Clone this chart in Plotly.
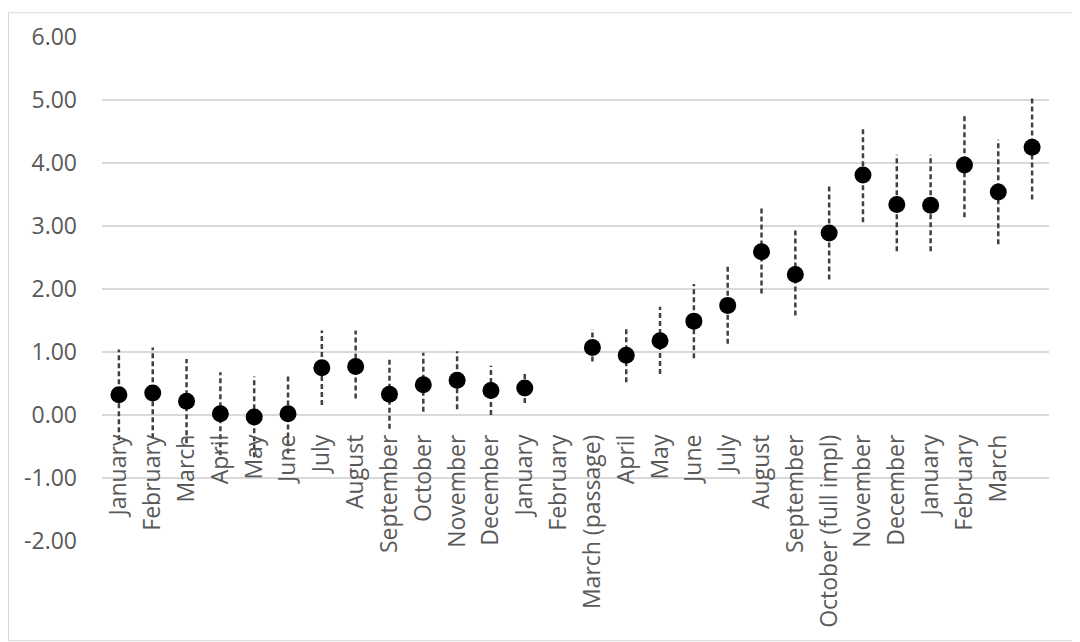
import plotly.graph_objects as go

labels = ["January", "February", "March", "April", "May", "June", "July", "August",
          "September", "October", "November", "December", "January", "February",
          "March (passage)", "April", "May", "June", "July", "August", "September",
          "October (full impl)", "November", "December", "January", "February", "March", ""]

values = [0.32, 0.35, 0.22, 0.02, -0.03, 0.02, 0.75, 0.77, 0.33, 0.48, 0.55, 0.39, 0.43,
          None, 1.07, 0.95, 1.18, 1.49, 1.74, 2.59, 2.23, 2.89, 3.81, 3.34, 3.33, 3.97, 3.54, 4.25]

upper = [1.04, 1.07, 0.89, 0.68, 0.61, 0.65, 1.34, 1.34, 0.88, 0.99, 1.01, 0.78, 0.70,
         None, 1.36, 1.40, 1.72, 2.08, 2.36, 3.28, 2.94, 3.63, 4.58, 4.13, 4.13, 4.79, 4.37, 5.07]

lower = [-0.40, -0.37, -0.45, -0.64, -0.67, -0.61, 0.16, 0.26, -0.22, 0.05, 0.09, 0.00, 0.19,
         None, 0.85, 0.52, 0.65, 0.90, 1.13, 1.93, 1.58, 2.15, 3.06, 2.60, 2.60, 3.14, 2.71, 3.42]

y_ticks = [-2, -1, 0, 1, 2, 3, 4, 5, 6]
y_tick_text = ["-2.00", "-1.00", "0.00", "1.00", "2.00", "3.00", "4.00", "5.00", "6.00"]

x_idx = list(range(len(labels)))

# dashed error bars as line segments
ex, ey = [], []
for i, (lo, hi) in enumerate(zip(lower, upper)):
    if lo is None:
        continue
    ex += [i, i, None]
    ey += [lo, hi, None]

fig = go.Figure()
fig.add_trace(go.Scatter(x=ex, y=ey, mode="lines",
                         line=dict(color="#404040", width=2.5, dash="5px,3px"),
                         hoverinfo="skip", showlegend=False))
fig.add_trace(go.Scatter(x=x_idx, y=values, mode="markers",
                         marker=dict(color="black", size=17),
                         showlegend=False))

# page has an 8px body margin; figure occupies 8..1080 x 8..642
W, H = 1072, 634
L, R, T, B = 94, 31, 25, 101
pw, ph = W - L - R, H - T - B

fig.update_layout(
    width=W, height=H,
    margin=dict(l=L, r=R, t=T, b=B),
    paper_bgcolor="white", plot_bgcolor="white",
    font=dict(family="Open Sans", size=23, color="#595959"),
    xaxis=dict(range=[-0.5, len(labels) - 0.5], tickmode="array", tickvals=x_idx,
               ticktext=labels, tickangle=-90, showgrid=False, zeroline=False,
               showline=False, ticks="", anchor="free", position=0.25,
               ticklabelstandoff=14,
               tickfont=dict(family="Open Sans", size=23, color="#595959")),
    yaxis=dict(range=[-2, 6], tickmode="array", tickvals=y_ticks, ticktext=y_tick_text,
               showgrid=True, gridcolor="#d9d9d9", gridwidth=1.5, zeroline=False,
               showline=False, ticks="", ticklabelstandoff=24,
               tickfont=dict(family="Open Sans", size=23, color="#595959")),
    shapes=[dict(type="rect", xref="paper", yref="paper",
                 x0=-(L - 0.5) / pw, x1=1 + (R - 0.5) / pw,
                 y0=-(B - 0.5) / ph, y1=1 + (T - 0.5) / ph,
                 line=dict(color="#d9d9d9", width=1), fillcolor="rgba(0,0,0,0)",
                 layer="below")],
)

fig.write_html("out.html")
